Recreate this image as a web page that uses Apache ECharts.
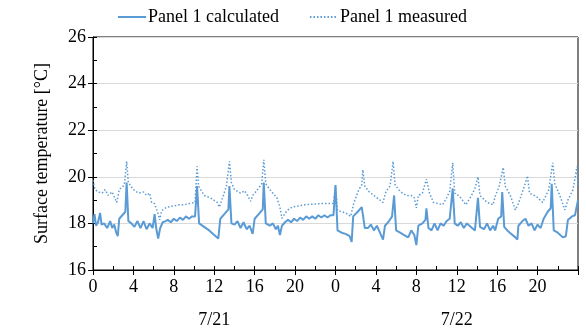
<!DOCTYPE html>
<html>
<head>
<meta charset="utf-8">
<script src="https://cdn.jsdelivr.net/npm/echarts@6/dist/echarts.min.js"></script>
<style>
  html, body { margin: 0; padding: 0; background: #fff; }
  #chart { width: 586px; height: 331px; }
</style>
</head>
<body>
<div id="chart"></div>
<script>
// 时间单位：从 7/21 0:00 起的小时数
const seriesNames = ['Panel 1 calculated', 'Panel 1 measured'];
const dayLabels = ['7/21', '7/22'];
const yTicks = [16, 18, 20, 22, 24, 26];

// 计算值 [小时, °C]
const calculated = [
  [0, 18.0], [0.15, 18.4], [0.3, 17.9], [0.5, 18.05], [0.7, 18.45], [0.85, 17.95], [1.1, 18.0],
  [1.4, 17.8], [1.7, 18.1], [1.9, 17.8], [2.1, 17.95], [2.3, 17.6], [2.45, 17.45], [2.6, 18.2],
  [2.9, 18.35], [3.2, 18.5], [3.33, 19.75], [3.5, 18.1], [3.8, 18.0], [4.1, 17.85], [4.4, 18.1],
  [4.7, 17.8], [5.0, 18.1], [5.3, 17.75], [5.6, 18.0], [5.9, 17.8], [6.1, 18.4], [6.25, 17.8],
  [6.45, 17.35], [6.65, 17.8], [6.9, 18.05], [7.2, 18.1], [7.4, 18.15], [7.7, 18.05], [8.0, 18.2],
  [8.3, 18.1], [8.6, 18.25], [8.9, 18.15], [9.2, 18.3], [9.5, 18.2], [9.8, 18.3], [10.1, 18.3],
  [10.3, 19.6], [10.5, 18.0], [11.0, 17.85], [11.5, 17.7], [12.0, 17.5], [12.4, 17.35], [12.5, 17.3],
  [12.6, 18.2], [13.0, 18.4], [13.4, 18.6], [13.5, 19.6], [13.7, 18.0], [14.0, 17.95], [14.3, 18.1],
  [14.6, 17.8], [14.9, 18.05], [15.2, 17.75], [15.5, 17.9], [15.8, 17.55], [16.0, 18.2], [16.4, 18.4],
  [16.8, 18.6], [16.9, 19.75], [17.1, 18.0], [17.5, 17.9], [17.8, 18.0], [18.1, 17.75], [18.3, 17.9],
  [18.5, 17.5], [18.7, 17.9], [19.0, 18.05], [19.3, 18.15], [19.6, 18.05], [19.9, 18.2], [20.2, 18.1],
  [20.5, 18.25], [20.8, 18.15], [21.1, 18.3], [21.4, 18.2], [21.7, 18.3], [22.0, 18.2], [22.3, 18.35],
  [22.6, 18.25], [22.9, 18.35], [23.2, 18.25], [23.5, 18.35], [23.8, 18.35], [24.0, 19.65], [24.2, 17.7],
  [24.6, 17.6], [25.0, 17.55], [25.4, 17.45], [25.6, 17.2], [25.75, 18.3], [26.2, 18.5], [26.6, 18.7],
  [26.75, 18.75], [26.9, 17.8], [27.2, 17.8], [27.5, 17.95], [27.8, 17.7], [28.1, 17.9], [28.4, 17.6],
  [28.7, 17.3], [28.9, 17.9], [29.3, 18.1], [29.6, 18.3], [29.8, 19.2], [30.0, 17.7], [30.4, 17.6],
  [30.8, 17.5], [31.2, 17.4], [31.5, 17.7], [31.8, 17.5], [32.0, 17.07], [32.2, 17.9], [32.6, 18.0],
  [32.9, 18.15], [33.0, 18.65], [33.2, 17.8], [33.5, 17.7], [33.8, 18.0], [34.1, 17.7], [34.4, 18.0],
  [34.7, 17.9], [35.0, 18.1], [35.3, 18.2], [35.6, 19.5], [35.8, 18.0], [36.1, 17.9], [36.4, 18.05],
  [36.7, 17.8], [37.0, 18.0], [37.4, 17.85], [37.8, 17.7], [38.1, 19.1], [38.3, 17.85], [38.7, 17.75],
  [39.0, 18.0], [39.3, 17.7], [39.6, 17.9], [39.8, 17.7], [40.1, 18.2], [40.4, 18.3], [40.5, 19.35],
  [40.7, 17.85], [41.0, 17.7], [41.4, 17.55], [41.8, 17.4], [42.0, 17.3], [42.1, 17.9], [42.5, 18.1],
  [42.8, 18.2], [43.1, 17.9], [43.4, 18.0], [43.7, 17.7], [44.0, 17.95], [44.3, 17.8], [44.6, 18.2],
  [45.0, 18.5], [45.3, 18.65], [45.4, 19.7], [45.6, 17.7], [46.0, 17.6], [46.5, 17.4], [46.8, 17.45],
  [47.0, 18.15], [47.4, 18.3], [47.7, 18.35], [48.0, 19.0]
];

// 实测值 [小时, °C]
const measured = [
  [0, 19.85], [0.2, 19.45], [0.5, 19.35], [0.9, 19.3], [1.2, 19.45], [1.5, 19.2], [1.9, 19.35],
  [2.35, 18.9], [2.6, 19.45], [3.1, 19.65], [3.33, 20.66], [3.5, 19.75], [4.0, 19.45], [4.5, 19.3],
  [5.0, 19.35], [5.3, 19.2], [5.6, 19.3], [5.8, 18.9], [6.1, 18.85], [6.45, 18.4], [6.6, 18.15],
  [6.8, 18.55], [7.3, 18.7], [8.0, 18.75], [8.5, 18.8], [9.0, 18.8], [9.5, 18.85], [10.1, 18.9],
  [10.3, 20.45], [10.45, 19.6], [11.0, 19.2], [11.6, 19.1], [12.3, 18.9], [12.5, 18.7], [12.9, 19.2],
  [13.2, 19.6], [13.5, 20.66], [13.7, 19.75], [14.0, 19.45], [14.6, 19.3], [15.0, 19.4], [15.3, 19.2],
  [15.6, 18.95], [15.8, 19.2], [16.2, 19.4], [16.7, 19.7], [16.9, 20.73], [17.1, 19.7], [17.5, 19.45],
  [18.2, 19.1], [18.5, 18.7], [18.7, 18.22], [19.2, 18.55], [19.7, 18.7], [21.0, 18.8], [22.5, 18.85],
  [23.8, 18.85], [24.0, 19.6], [24.2, 18.55], [25.0, 18.45], [25.5, 18.3], [25.8, 18.85], [26.3, 19.44],
  [26.6, 19.66], [26.7, 20.3], [26.9, 19.6], [27.3, 19.37], [27.8, 19.2], [28.7, 18.9], [29.0, 19.37],
  [29.4, 19.6], [29.7, 20.66], [29.9, 19.65], [30.4, 19.37], [31.0, 19.2], [31.5, 19.2], [31.8, 19.1],
  [32.0, 18.67], [32.2, 19.2], [32.6, 19.3], [33.0, 19.9], [33.3, 19.3], [33.7, 18.9], [34.2, 18.85],
  [34.6, 18.8], [35.0, 19.1], [35.3, 19.37], [35.6, 20.6], [35.8, 19.3], [36.3, 19.15], [36.9, 18.8],
  [37.4, 19.15], [37.8, 19.5], [38.1, 20.0], [38.3, 19.2], [39.0, 18.9], [39.6, 18.8], [39.8, 19.15],
  [40.2, 19.6], [40.6, 20.4], [40.8, 19.6], [41.3, 19.2], [41.8, 18.58], [42.1, 18.85], [42.7, 19.6],
  [43.0, 20.04], [43.2, 19.3], [43.9, 19.15], [44.5, 18.9], [45.1, 19.44], [45.5, 20.6], [45.7, 19.7],
  [46.2, 19.2], [46.7, 18.58], [47.0, 19.0], [47.5, 19.44], [47.9, 20.44], [48.0, 19.6]
];

const lineColor = '#5B9BD5';
const font = 'Liberation Serif';

const chart = echarts.init(document.getElementById('chart'));

const option = {
  animation: false,
  textStyle: { fontFamily: font, color: '#000' },
  legend: {
    top: 3,
    left: 112,
    itemWidth: 28,
    itemHeight: 10,
    itemGap: 30,
    itemStyle: { opacity: 0 }, // 图例只显示线，不显示圆点
    textStyle: { fontFamily: font, fontSize: 18, color: '#000', padding: [0, 0, 0, -3] },
    data: seriesNames
  },
  grid: {
    left: 93, right: 8, top: 37, bottom: 61,
    show: true, borderColor: '#000', borderWidth: 1
  },
  xAxis: [
    {
      // 主轴：刻度标签 + 向外刻度
      type: 'value', min: 0, max: 48, interval: 4,
      axisLine: { lineStyle: { color: '#000', width: 1 } },
      axisTick: { show: true, inside: false, length: 5, lineStyle: { color: '#000' } },
      axisLabel: {
        color: '#000', fontFamily: font, fontSize: 18, margin: 8,
        formatter: v => (v >= 48 ? '' : String(v % 24))
      },
      splitLine: { show: false }
    },
    {
      // 内侧刻度（每 2 小时）
      type: 'value', min: 0, max: 48, interval: 2, position: 'bottom',
      axisLine: { show: false },
      axisTick: { show: true, inside: true, length: 4, lineStyle: { color: '#000' } },
      axisLabel: { show: false },
      splitLine: { show: false }
    },
    {
      // 日期标签
      type: 'value', min: 0, max: 48, interval: 12, position: 'bottom',
      axisLine: { show: false },
      axisTick: { show: false },
      axisLabel: {
        color: '#000', fontFamily: font, fontSize: 18, margin: 41,
        formatter: v => (v === 12 ? dayLabels[0] : v === 36 ? dayLabels[1] : '')
      },
      splitLine: { show: false }
    }
  ],
  yAxis: [
    {
      type: 'value', min: yTicks[0], max: yTicks[yTicks.length - 1], interval: 2,
      name: 'Surface temperature [°C]',
      nameLocation: 'middle', nameGap: 42,
      nameTextStyle: { fontFamily: font, fontSize: 18, color: '#000' },
      axisLine: { show: true, lineStyle: { color: '#000', width: 1 } },
      axisTick: { show: true, inside: false, length: 5, lineStyle: { color: '#000' } },
      axisLabel: { color: '#000', fontFamily: font, fontSize: 18, margin: 7 },
      splitLine: { show: true, lineStyle: { color: '#d9d9d9', width: 1 } }
    },
    {
      type: 'value', min: yTicks[0], max: yTicks[yTicks.length - 1], interval: 1, position: 'left',
      axisLine: { show: false },
      axisTick: { show: true, inside: true, length: 4, lineStyle: { color: '#000' } },
      axisLabel: { show: false },
      splitLine: { show: false }
    }
  ],
  series: [
    {
      name: seriesNames[0],
      type: 'line',
      xAxisIndex: 0, yAxisIndex: 0,
      symbol: 'none',
      lineStyle: { color: lineColor, width: 2 },
      itemStyle: { color: lineColor },
      data: calculated,
      z: 3
    },
    {
      name: seriesNames[1],
      type: 'line',
      xAxisIndex: 0, yAxisIndex: 0,
      symbol: 'none',
      lineStyle: { color: lineColor, width: 1.5, type: [1.5, 2] },
      itemStyle: { color: lineColor },
      data: measured,
      z: 2
    }
  ]
};

chart.setOption(option);
</script>
</body>
</html>
